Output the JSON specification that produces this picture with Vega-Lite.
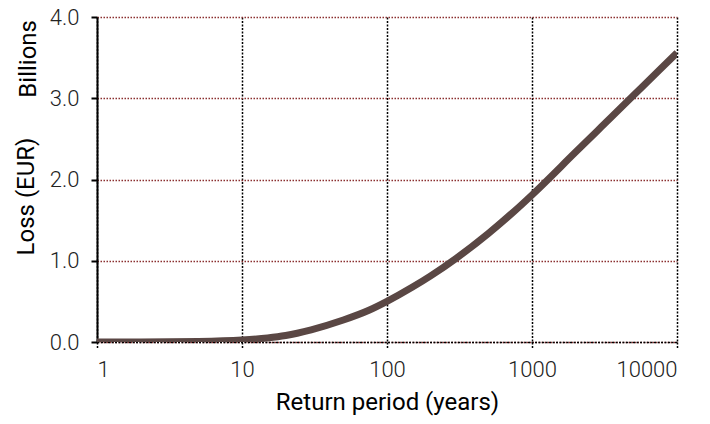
{
  "$schema": "https://vega.github.io/schema/vega-lite/v6.json",
  "width": 580,
  "height": 325,
  "autosize": {"type": "none"},
  "padding": {"left": 97, "top": 17, "right": 33, "bottom": 82},
  "background": "white",
  "title": {"text": "Billions", "orient": "left", "anchor": "end", "frame": "group", "offset": -27, "dx": -3, "font": "Roboto", "fontSize": 24, "fontWeight": "normal", "color": "#000"},
  "data": {"values": [
    {"rp": 1, "loss": 0.0},
    {"rp": 2, "loss": 0.001},
    {"rp": 5, "loss": 0.007},
    {"rp": 10, "loss": 0.025},
    {"rp": 15, "loss": 0.05},
    {"rp": 20, "loss": 0.08},
    {"rp": 30, "loss": 0.15},
    {"rp": 50, "loss": 0.27},
    {"rp": 75, "loss": 0.39},
    {"rp": 100, "loss": 0.5},
    {"rp": 150, "loss": 0.676},
    {"rp": 200, "loss": 0.814},
    {"rp": 300, "loss": 1.03},
    {"rp": 500, "loss": 1.336},
    {"rp": 750, "loss": 1.605},
    {"rp": 1000, "loss": 1.81},
    {"rp": 2000, "loss": 2.337},
    {"rp": 3000, "loss": 2.645},
    {"rp": 5000, "loss": 3.033},
    {"rp": 7500, "loss": 3.341},
    {"rp": 10000, "loss": 3.56}
  ]},
  "mark": {"type": "line", "color": "#5a4744", "strokeWidth": 7, "interpolate": "monotone", "clip": true},
  "encoding": {
    "x": {
      "field": "rp", "type": "quantitative",
      "scale": {"type": "log", "domain": [1, 10000], "nice": false},
      "axis": {
        "values": [1, 10, 100, 1000, 10000],
        "format": "d",
        "title": "Return period (years)",
        "titleFont": "Roboto", "titleFontSize": 24, "titleFontWeight": "normal", "titleColor": "#000", "titlePadding": 10,
        "labelFont": "Roboto", "labelFontSize": 22, "labelFontWeight": 300, "labelColor": "#222", "labelPadding": 11,
        "domainColor": "#000", "domainWidth": 1.5, "domainDash": [2, 1.5],
        "tickColor": "#000", "tickWidth": 1.5, "tickDash": [2, 1.5], "tickSize": 6,
        "grid": true, "gridColor": "#000", "gridWidth": 1.5, "gridDash": [2, 1.5]
      }
    },
    "y": {
      "field": "loss", "type": "quantitative",
      "scale": {"domain": [0, 4], "nice": false},
      "axis": {
        "values": [0, 1, 2, 3, 4],
        "format": ".1f",
        "title": "Loss (EUR)",
        "titleFont": "Roboto", "titleFontSize": 24, "titleFontWeight": "normal", "titleColor": "#000",
        "titleY": 179, "titlePadding": 11,
        "labelFont": "Roboto", "labelFontSize": 22, "labelFontWeight": 300, "labelColor": "#222", "labelPadding": 12,
        "domainColor": "#000", "domainWidth": 2,
        "tickColor": "#000", "tickWidth": 2, "tickSize": 6,
        "grid": true, "gridColor": "#8b3030", "gridWidth": 1.5, "gridDash": [1.5, 1.5]
      }
    }
  },
  "config": {"view": {"stroke": null}}
}
